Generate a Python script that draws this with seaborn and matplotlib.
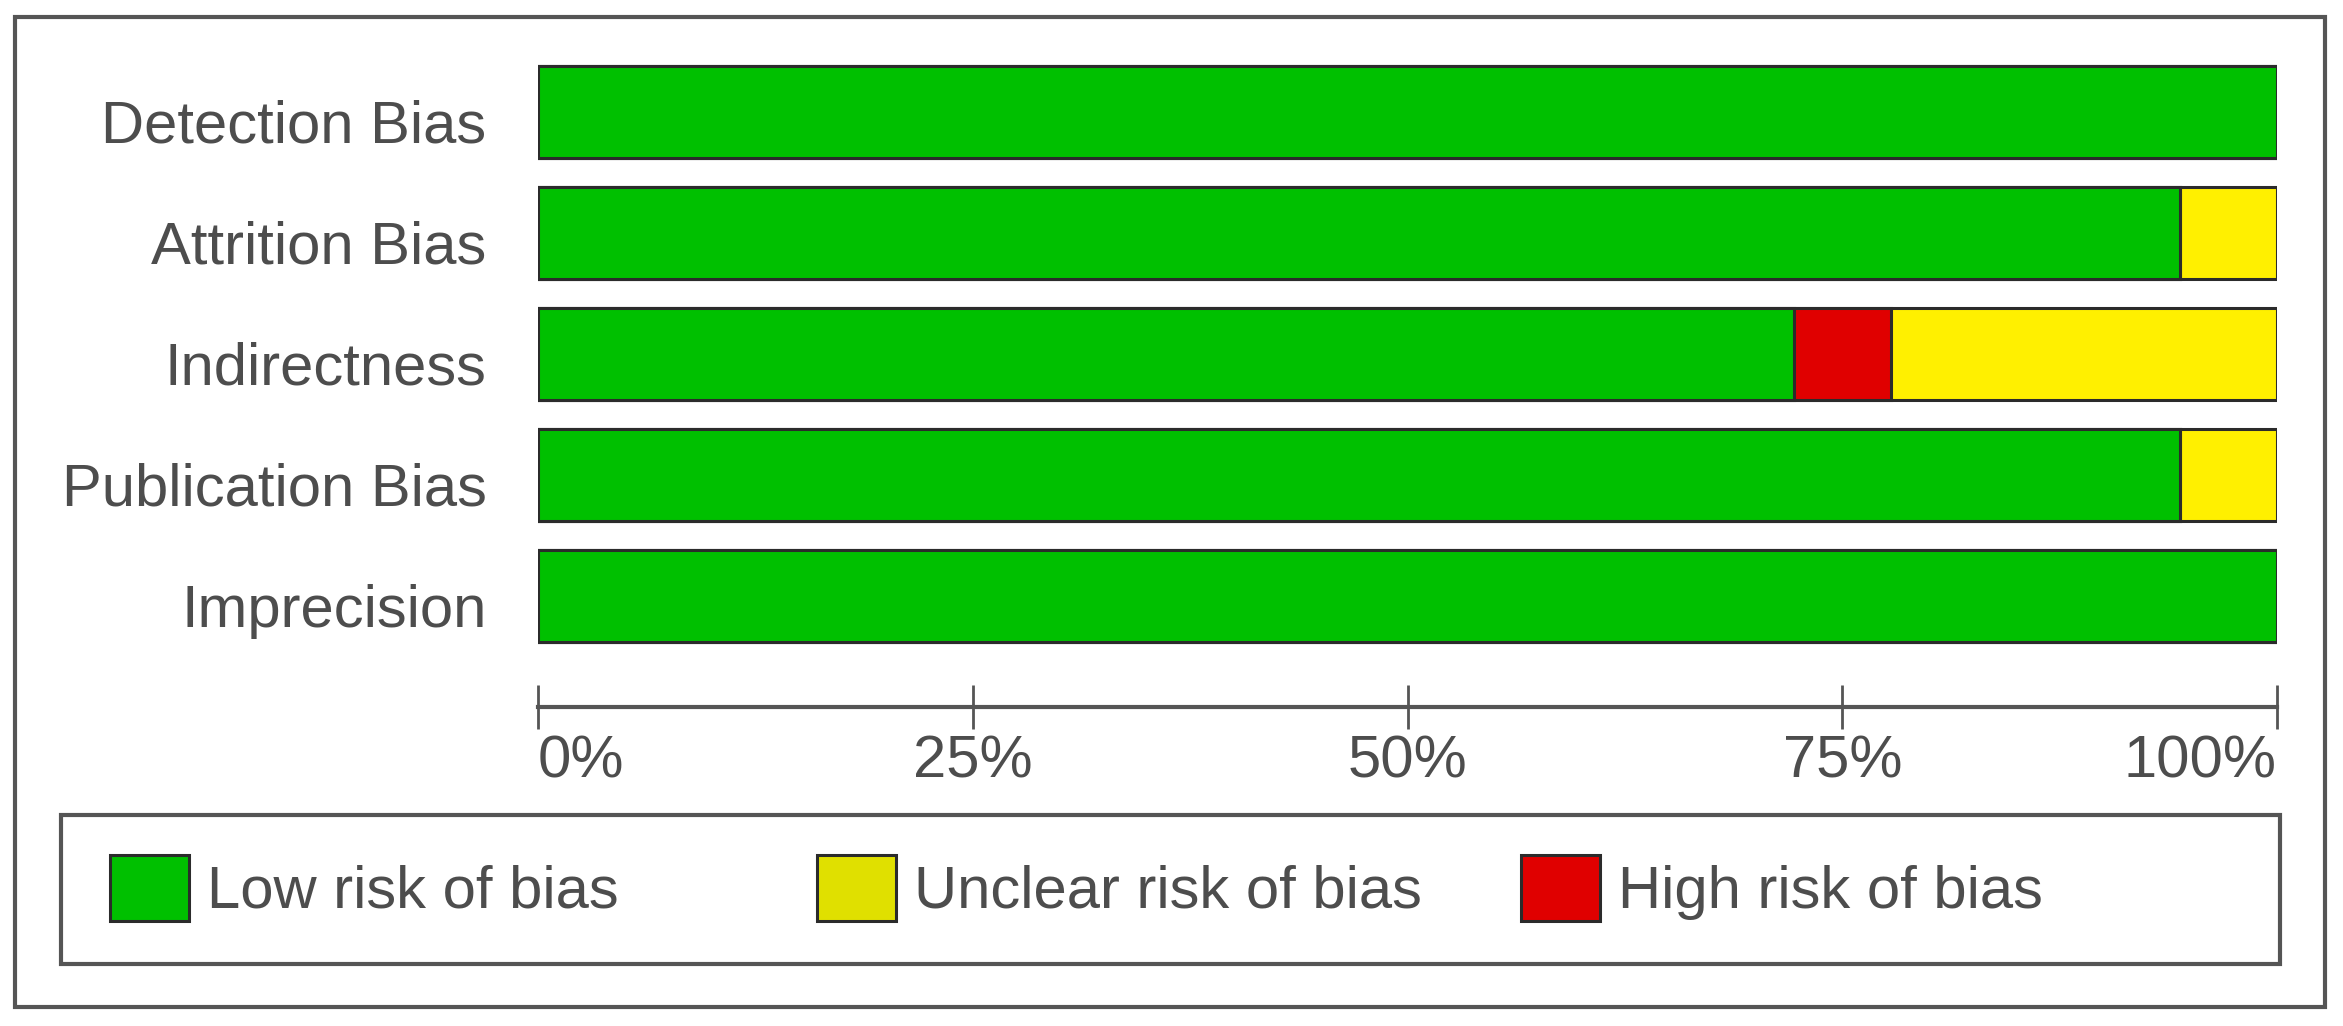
import matplotlib
matplotlib.use("Agg")
import matplotlib.pyplot as plt
import matplotlib.transforms as mtransforms
from matplotlib.patches import Patch, Rectangle
import pandas as pd
import seaborn as sns

# risk of bias judgements, counted over 18 studies
domains = ["Detection Bias", "Attrition Bias", "Indirectness", "Publication Bias", "Imprecision"]
low_risk = [18, 17, 13, 17, 18]
high_risk = [0, 0, 1, 0, 0]
unclear_risk = [0, 1, 4, 1, 0]
n_studies = 18

tick_values = [0, 0.25, 0.5, 0.75, 1.0]
tick_labels = ["0%", "25%", "50%", "75%", "100%"]
legend_labels = ["Low risk of bias", "Unclear risk of bias", "High risk of bias"]

GREEN = "#00c000"
YELLOW = "#fff000"
YELLOW_KEY = "#e0e000"
RED = "#e00000"
TEXT = "#4d4d4d"
LINE = "#555555"
EDGE = "#2b2b2b"

W, H = 2343, 1026


def main():
    df = pd.DataFrame({"domain": domains})
    df["low"] = [v / n_studies for v in low_risk]
    df["low_high"] = [(a + b) / n_studies for a, b in zip(low_risk, high_risk)]
    df["total"] = [(a + b + c) / n_studies for a, b, c in zip(low_risk, high_risk, unclear_risk)]

    sns.set_theme(style="white")
    plt.rcParams["font.family"] = ["Liberation Sans", "DejaVu Sans"]

    fig = plt.figure(figsize=(W / 100, H / 100), dpi=100)
    ax = fig.add_axes([538 / W, 1 - 707 / H, (2277 - 538) / W, (707 - 51.5) / H])

    # stacked bars drawn back to front: unclear on the bottom, then high, then low
    bar_kws = dict(y="domain", orient="h", width=0.76, saturation=1, errorbar=None,
                   edgecolor=EDGE, linewidth=2.2, ax=ax)
    sns.barplot(data=df, x="total", color=YELLOW, **bar_kws)
    sns.barplot(data=df, x="low_high", color=RED, **bar_kws)
    sns.barplot(data=df, x="low", color=GREEN, **bar_kws)

    ax.set_xlim(0, 1)
    ax.set_ylim(4.917, -0.5)
    ax.set_xlabel("")
    ax.set_ylabel("")

    for side in ["top", "right", "left"]:
        ax.spines[side].set_visible(False)
    ax.spines["bottom"].set_color(LINE)
    ax.spines["bottom"].set_linewidth(3)

    ax.set_xticks(tick_values)
    ax.set_xticklabels(tick_labels)
    ax.tick_params(axis="x", direction="inout", length=31, width=2, color=LINE,
                   labelsize=43, labelcolor=TEXT, pad=4, bottom=True)
    for lab, ha in zip(ax.get_xticklabels(), ["left", "center", "center", "center", "right"]):
        lab.set_ha(ha)
    ax.tick_params(axis="y", length=0, pad=37, labelsize=43, labelcolor=TEXT)
    # row labels sit a little below the bar centres in the original
    shift = mtransforms.ScaledTranslation(0, -0.09, fig.dpi_scale_trans)
    for lab in ax.get_yticklabels():
        lab.set_transform(lab.get_transform() + shift)

    # legend, one entry per column on a fixed grid
    legend_colors = [GREEN, YELLOW_KEY, RED]
    legend_x = [110 / W, 817 / W, 1521 / W]
    for color, label, x in zip(legend_colors, legend_labels, legend_x):
        fig.legend(handles=[Patch(facecolor=color, edgecolor=EDGE, linewidth=2.2)],
                   labels=[label], loc="center left", bbox_to_anchor=(x, 1 - 888 / H),
                   frameon=False, fontsize=43, labelcolor=TEXT,
                   handlelength=1.33, handleheight=1.32, handletextpad=0.3,
                   borderpad=0, borderaxespad=0)

    fig.add_artist(Rectangle((61 / W, 1 - 964 / H), (2280 - 61) / W, (964 - 815) / H,
                             transform=fig.transFigure, fill=False, edgecolor=LINE, linewidth=3))
    fig.add_artist(Rectangle((15 / W, 1 - 1007 / H), (2325 - 15) / W, (1007 - 17) / H,
                             transform=fig.transFigure, fill=False, edgecolor=LINE, linewidth=3))

    fig.savefig("out.png", dpi=100, facecolor="white")


if __name__ == "__main__":
    main()
